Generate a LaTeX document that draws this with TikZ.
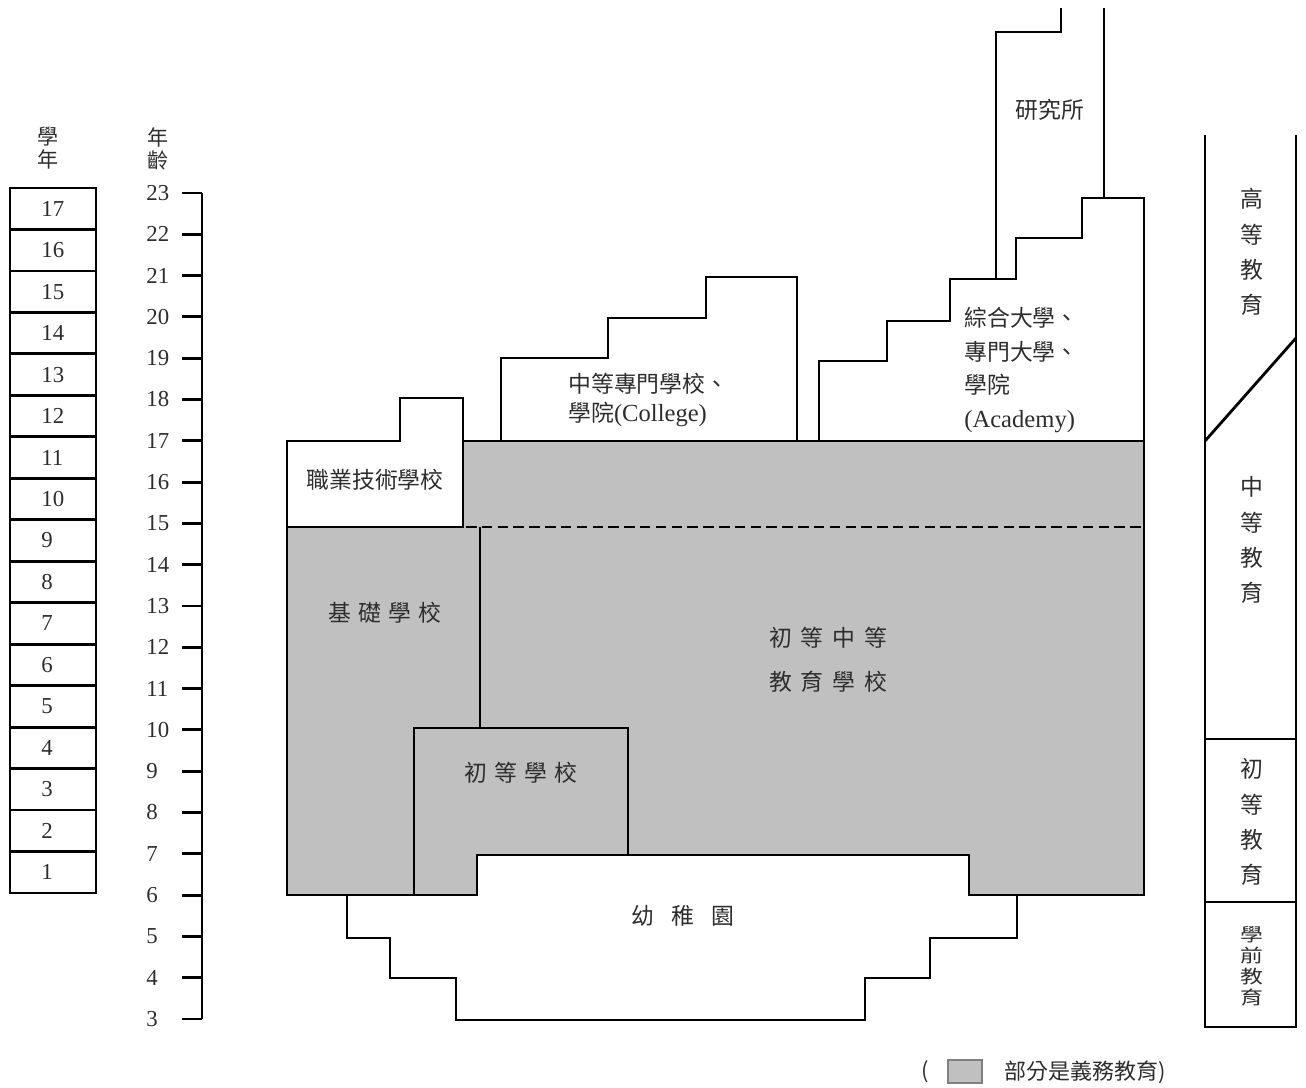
\documentclass[tikz,border=0pt]{standalone}
\usepackage{fontspec}
\usepackage{graphicx}
\setmainfont{Liberation Serif}
\newfontfamily\cjk{Noto Sans CJK TC}
\definecolor{duty}{RGB}{192,192,192}
\definecolor{ink}{RGB}{45,45,45}
\tikzset{
  wall/.style={line width=1.6pt},
  txt/.style={font=\cjk\fontsize{13}{19}\selectfont, text=ink, inner sep=0pt},
  num/.style={font=\fontsize{13}{15}\selectfont, text=ink, inner sep=0pt},
}

\begin{document}
\begin{tikzpicture}[x=0.02cm,y=-0.02cm]
\useasboundingbox (0,0) rectangle (1306,1088);

\node[txt,font=\cjk\fontsize{12}{13.5}\selectfont,align=center] (hyr) at (48,148) {學\\年};
\node[txt,font=\cjk\fontsize{12}{13.5}\selectfont,align=center] (hage) at (158,149) {年\\齡};

\foreach \g in {1,...,17}{
  \pgfmathsetmacro\yb{893-(\g-1)*41.47}
  \draw[wall] (10,\yb) rectangle (96,\yb-41.47);
  \node[num,anchor=west] (g\g) at (41,\yb-20.7) {\g};
}

\draw[wall] (202,193) -- (202,1019);
\foreach \a in {3,...,23}{
  \pgfmathsetmacro\ya{1019-(\a-3)*41.3}
  \draw[wall] (182,\ya) -- (202,\ya);
  \node[num,anchor=west] (a\a) at (146,\ya) {\a};
}

\draw[wall,fill=duty] (463,441) -- (1144,441) -- (1144,895) -- (969,895) -- (969,855)
  -- (477,855) -- (477,895) -- (287,895) -- (287,527) -- (463,527) -- cycle;
\draw[wall] (287,527) -- (287,441) -- (400,441) -- (400,398) -- (463,398) -- (463,527) -- cycle;
\draw[wall,dash pattern=on 6pt off 3pt] (466,527) -- (1144,527);
\draw[wall] (480,527) -- (480,728);
\draw[wall] (414,895) -- (414,728) -- (628,728) -- (628,855);
\draw[wall] (347,895) -- (347,938) -- (390,938) -- (390,978) -- (456,978) -- (456,1020)
  -- (865,1020) -- (865,978) -- (930,978) -- (930,938) -- (1017,938) -- (1017,895);
\draw[wall] (501,441) -- (501,358) -- (608,358) -- (608,318) -- (706,318) -- (706,277)
  -- (797,277) -- (797,441);
\draw[wall] (819,441) -- (819,361) -- (887,361) -- (887,321) -- (950,321) -- (950,279)
  -- (1016,279) -- (1016,238) -- (1082,238) -- (1082,198) -- (1144,198) -- (1144,441);
\draw[wall] (996,279) -- (996,32) -- (1061,32) -- (1061,8);
\draw[wall] (1104,198) -- (1104,8);

\draw[wall] (1205,135) -- (1205,1027) -- (1296,1027) -- (1296,135);
\draw[wall] (1205,441) -- (1296,338);
\draw[wall] (1205,739) -- (1296,739);
\draw[wall] (1205,902) -- (1296,902);

\node[txt] (grad) at (1050,110) {研究所};
\node[txt,anchor=west,align=left] (univ) at (964,370) {綜合大學、\\專門大學、\\學院\\{\rmfamily\fontsize{14}{19}\selectfont(Academy)}};
\node[txt,anchor=west,align=left,font=\cjk\fontsize{13}{17}\selectfont] (coll) at (568,400) {中等專門學校、\\學院{\rmfamily\fontsize{14}{17}\selectfont(College)}};
\node[txt] (voc) at (375,480) {職業技術學校};
\node[txt] (basic) at (385,613) {基\hspace{4pt}礎\hspace{4pt}學\hspace{4pt}校};
\node[txt,align=center,font=\cjk\fontsize{13}{25}\selectfont] (sec) at (828,660) {初\hspace{5pt}等\hspace{5pt}中\hspace{5pt}等\\教\hspace{5pt}育\hspace{5pt}學\hspace{5pt}校};
\node[txt] (prim) at (521,773) {初\hspace{4pt}等\hspace{4pt}學\hspace{4pt}校};
\node[txt] (kind) at (683,916) {幼\hspace{10pt}稚\hspace{10pt}園};

\node[txt,align=center,font=\cjk\fontsize{13}{20}\selectfont] (hi) at (1252,252) {高\\等\\教\\育};
\node[txt,align=center,font=\cjk\fontsize{13}{20}\selectfont] (mid) at (1252,540) {中\\等\\教\\育};
\node[txt,align=center,font=\cjk\fontsize{13}{20}\selectfont] (low) at (1252,822) {初\\等\\教\\育};
\node[txt] (pre) at (1252,966) {\scalebox{1}[.8]{\shortstack{學\\前\\教\\育}}};

\node[txt,font=\cjk\fontsize{12.5}{15}\selectfont] (lp) at (925,1072) {(};
\draw[gray,line width=0.8pt,fill=duty] (948,1060) rectangle (982,1083);
\node[txt,anchor=west,font=\cjk\fontsize{12.5}{15}\selectfont] (leg) at (1004,1072) {部分是義務教育)};
\end{tikzpicture}
\end{document}
